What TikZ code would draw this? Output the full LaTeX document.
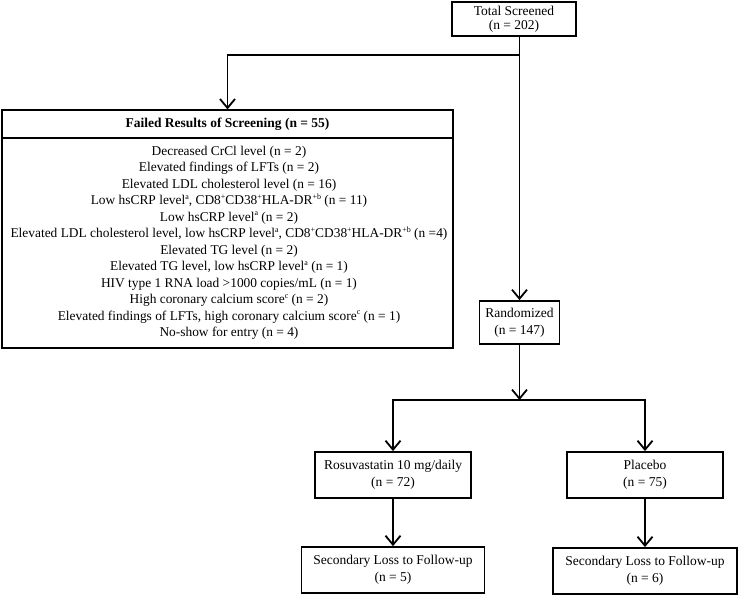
\documentclass[tikz,border=0pt]{standalone}
\usepackage{fontspec}
\setmainfont{Liberation Serif}
\usetikzlibrary{arrows.meta}
\newcommand\supx[1]{\raisebox{0.42em}{\fontsize{8}{8}\selectfont #1}}
\begin{document}
\begin{tikzpicture}[x=1pt,y=-1pt,
  box/.style={draw, line width=1.8pt, align=center, inner sep=0pt, font=\fontsize{13.5}{17}\selectfont},
  conn/.style={line width=1.8pt},
  arr/.style={conn, -{Straight Barb[length=9pt,width=15pt]}},
  txt/.style={inner sep=0pt, align=center, font=\fontsize{13.4}{16.5}\selectfont}]
\useasboundingbox (0,0) rectangle (739,597);
% boxes
\node[box, minimum width=124pt, minimum height=34pt, font=\fontsize{13.5}{14}\selectfont] (total) at (514,19) {Total Screened\\(n = 202)};
\node[draw, line width=1.2pt, minimum width=451pt, minimum height=238pt, inner sep=0pt] (failed) at (227.5,229) {};
\coordinate (hd) at (0,138);
\draw[line width=1.2pt] (failed.west |- hd) -- (failed.east |- hd);
\node[txt, font=\fontsize{13.5}{14}\selectfont\bfseries] (head) at (227.5,124) {Failed Results of Screening (n = 55)};
\node[txt] (reasons) at (229,243) {Decreased CrCl level (n = 2)\\
Elevated findings of LFTs (n = 2)\\
Elevated LDL cholesterol level (n = 16)\\
Low hsCRP level\supx{a}, CD8\supx{+}CD38\supx{+}HLA-DR\supx{+b} (n = 11)\\
Low hsCRP level\supx{a} (n = 2)\\
Elevated LDL cholesterol level, low hsCRP level\supx{a}, CD8\supx{+}CD38\supx{+}HLA-DR\supx{+b} (n =4)\\
Elevated TG level (n = 2)\\
Elevated TG level, low hsCRP level\supx{a} (n = 1)\\
HIV type 1 RNA load >1000 copies/mL (n = 1)\\
High coronary calcium score\supx{c} (n = 2)\\
Elevated findings of LFTs, high coronary calcium score\supx{c} (n = 1)\\
No-show for entry (n = 4)};
\node[box, minimum width=80pt, minimum height=43pt] (rand) at (519.5,322.5) {Randomized\\(n = 147)};
\node[box, minimum width=156pt, minimum height=46pt] (rosu) at (393,475) {Rosuvastatin 10 mg/daily\\(n = 72)};
\node[box, minimum width=156pt, minimum height=46pt] (plac) at (645,475) {Placebo\\(n = 75)};
\node[box, minimum width=183pt, minimum height=46pt] (loss1) at (393,570) {Secondary Loss to Follow-up\\(n = 5)};
\node[box, minimum width=184pt, minimum height=46pt] (loss2) at (645,571) {Secondary Loss to Follow-up\\(n = 6)};
% connectors
\coordinate (tj) at (519.5,55);
\coordinate (split) at (519.5,400);
\draw[arr] (total.south -| rand.north) -- (rand.north);
\draw[arr] (tj) -| (failed.north);
\draw[arr] (rand.south) -- (split);
\draw[arr] (split) -| (rosu.north);
\draw[arr] (split) -| (plac.north);
\draw[arr] (rosu.south) -- (loss1.north);
\draw[arr] (plac.south) -- (loss2.north);
\end{tikzpicture}
\end{document}
